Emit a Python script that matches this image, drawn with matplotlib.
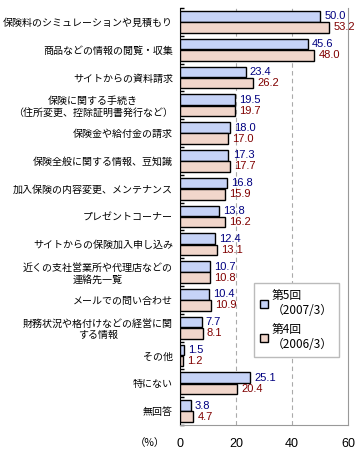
import matplotlib
matplotlib.use('Agg')
import matplotlib.pyplot as plt
import numpy as np

plt.rcParams['font.family'] = ['Noto Sans CJK JP', 'DejaVu Sans']

categories = [
    '保険料のシミュレーションや見積もり',
    '商品などの情報の閲覧・収集',
    'サイトからの資料請求',
    '保険に関する手続き\n（住所変更、控除証明書発行など）',
    '保険金や給付金の請求',
    '保険全般に関する情報、豆知識',
    '加入保険の内容変更、メンテナンス',
    'プレゼントコーナー',
    'サイトからの保険加入申し込み',
    '近くの支社営業所や代理店などの\n連絡先一覧',
    'メールでの問い合わせ',
    '財務状況や格付けなどの経営に関\nする情報',
    'その他',
    '特にない',
    '無回答',
]
wave5 = [50.0, 45.6, 23.4, 19.5, 18.0, 17.3, 16.8, 13.8, 12.4, 10.7, 10.4, 7.7, 1.5, 25.1, 3.8]
wave4 = [53.2, 48.0, 26.2, 19.7, 17.0, 17.7, 15.9, 16.2, 13.1, 10.8, 10.9, 8.1, 1.2, 20.4, 4.7]
series_labels = ['第5回\n（2007/3）', '第4回\n（2006/3）']
xticks = [0, 20, 40, 60]

fig = plt.figure(figsize=(3.6, 4.55), dpi=100)
ax = fig.add_axes([0.5, 0.0659, 0.4667, 0.9165])

y = np.arange(len(categories))
h = 0.38
blue = '#c6d3f7'
pink = '#f1d6cb'
ax.barh(y - 0.2, wave5, h, color=blue, edgecolor='black', linewidth=1, label=series_labels[0], zorder=3)
ax.barh(y + 0.2, wave4, h, color=pink, edgecolor='black', linewidth=1, label=series_labels[1], zorder=3)

for i in range(len(categories)):
    ax.annotate(f'{wave5[i]:.1f}', (wave5[i], y[i] - 0.2), textcoords='offset points', xytext=(3, 0),
                va='center', ha='left', fontsize=8, color='#000080', family='Liberation Sans')
    ax.annotate(f'{wave4[i]:.1f}', (wave4[i], y[i] + 0.2), textcoords='offset points', xytext=(3, 0),
                va='center', ha='left', fontsize=8, color='#800000', family='Liberation Sans')

ax.set_xlim(0, 60)
ax.set_ylim(len(categories) - 0.5, -0.5)
ax.set_xticks(xticks)
ax.set_xticklabels([str(t) for t in xticks], family='Liberation Sans', fontsize=9)
ax.tick_params(axis='x', length=0, pad=9)
ax.set_yticks(y)
ax.set_yticklabels(categories, fontsize=7.2, multialignment='center')
ax.tick_params(axis='y', which='major', length=0, pad=5)
ax.set_yticks(np.arange(len(categories) + 1) - 0.5, minor=True)
ax.tick_params(axis='y', which='minor', direction='in', length=3, width=1)

for xv in [20, 40]:
    ax.axvline(xv, color='#aaaaaa', linestyle=(0, (4, 3)), linewidth=0.8, zorder=1)

ax.spines['top'].set_visible(False)
ax.spines['right'].set_color('#999999')
ax.spines['bottom'].set_color('#999999')
ax.spines['left'].set_color('black')

fig.text(150 / 360, 1 - 443 / 455, '（%）', fontsize=7.5, ha='center', va='center')

leg = ax.legend(loc='upper left', bbox_to_anchor=(254 / 360, 1 - 283 / 455), bbox_transform=fig.transFigure,
                fontsize=8.5, frameon=True, fancybox=False, edgecolor='#bbbbbb', framealpha=1,
                handlelength=0.7, handleheight=0.7, handletextpad=0.3, labelspacing=0.5,
                borderpad=0.5, borderaxespad=0)
leg.get_frame().set_linewidth(1)

fig.savefig('out.png', dpi=100)
